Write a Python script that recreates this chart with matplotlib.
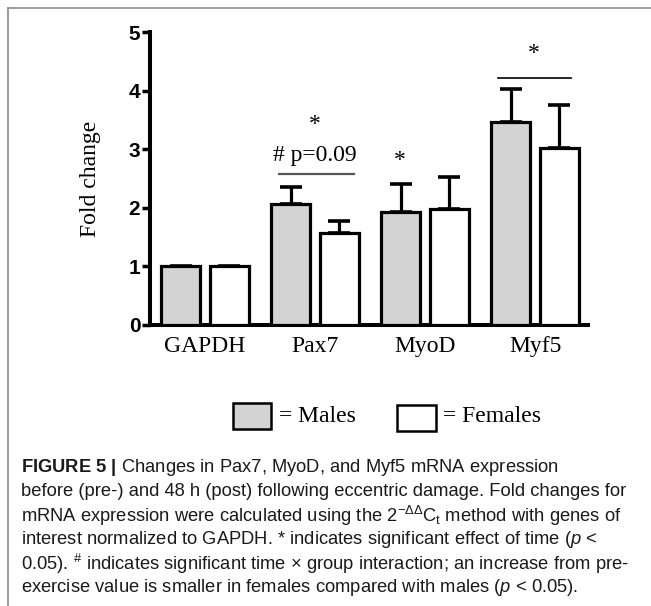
import numpy as np
import matplotlib
matplotlib.use("Agg")
import matplotlib.pyplot as plt
from matplotlib.patches import Rectangle
from matplotlib.lines import Line2D

# data
genes = ["GAPDH", "Pax7", "MyoD", "Myf5"]
males = [1.0, 2.06, 1.93, 3.46]
males_err = [np.nan, 0.30, 0.47, 0.57]
females = [1.0, 1.57, 1.98, 3.02]
females_err = [np.nan, 0.20, 0.55, 0.73]

caption_lines = [
    r"$\mathbf{FIGURE\ 5\ |}$ Changes in Pax7, MyoD, and Myf5 mRNA expression",
    "before (pre-) and 48 h (post) following eccentric damage. Fold changes for",
    r"mRNA expression were calculated using the 2$^{-\Delta\Delta}$C$_{\mathrm{t}}$ method with genes of",
    r"interest normalized to GAPDH. * indicates significant effect of time ($\mathit{p}$ <",
    r"0.05). $^{\#}$ indicates significant time $\times$ group interaction; an increase from pre-",
    r"exercise value is smaller in females compared with males ($\mathit{p}$ < 0.05).",
]

plt.rcParams["mathtext.fontset"] = "custom"
plt.rcParams["mathtext.rm"] = "Liberation Sans"
plt.rcParams["mathtext.it"] = "Liberation Sans:italic"
plt.rcParams["mathtext.bf"] = "Liberation Sans:bold"

W, H = 651, 606
fig = plt.figure(figsize=(W / 100, H / 100), dpi=100)
ax = fig.add_axes([150 / W, 1 - 325 / H, 438 / W, 293 / H])

x = np.arange(len(genes))
off = 0.22
bw = 0.355
lw = 2.3
ax.bar(x - off, males, bw, color="#d3d3d3", edgecolor="black", linewidth=lw, zorder=3)
ax.bar(x + off, females, bw, color="white", edgecolor="black", linewidth=lw, zorder=3)
ax.errorbar(x - off, males, yerr=[np.zeros(4), males_err], fmt="none", ecolor="black",
            elinewidth=2.3, capsize=8, capthick=2.6, zorder=2)
ax.errorbar(x + off, females, yerr=[np.zeros(4), females_err], fmt="none", ecolor="black",
            elinewidth=2.3, capsize=8, capthick=2.6, zorder=2)

ax.set_xlim(-0.5, 3.48)
ax.set_ylim(0, 5)
ax.set_yticks([0, 1, 2, 3, 4, 5])
for s in ["top", "right"]:
    ax.spines[s].set_visible(False)
for s in ["left", "bottom"]:
    ax.spines[s].set_linewidth(2.9)
ax.tick_params(axis="y", width=2.5, length=6, pad=1, labelsize=15)
for t in ax.get_yticklabels():
    t.set_fontfamily("Liberation Sans")
    t.set_fontweight("bold")
ax.set_xticks(x)
ax.set_xticklabels(genes, fontfamily="Liberation Serif", fontsize=17)
ax.tick_params(axis="x", length=0, pad=8)
ax.set_ylabel("Fold change", fontfamily="Liberation Serif", fontsize=17, labelpad=20)

# significance marks
ax.plot([0.67, 1.35], [2.57, 2.57], color="#555555", lw=1.6)
ax.text(1.0, 2.9, "# p=0.09", ha="center", va="center", family="Liberation Serif", fontsize=17)
ax.text(1.0, 3.42, "*", ha="center", va="center", family="Liberation Serif", fontsize=17)
ax.text(1.77, 2.8, "*", ha="center", va="center", family="Liberation Serif", fontsize=17)
ax.plot([2.66, 3.33], [4.21, 4.21], color="black", lw=1.2)
ax.text(2.99, 4.63, "*", ha="center", va="center", family="Liberation Serif", fontsize=17)

# legend
fig.add_artist(Rectangle((233 / W, 1 - 429 / H), 38 / W, 26 / H, transform=fig.transFigure,
                         facecolor="#d3d3d3", edgecolor="black", lw=1.8))
fig.text(279 / W, 1 - 416 / H, "= Males", ha="left", va="center", family="Liberation Serif", fontsize=17)
fig.add_artist(Rectangle((397 / W, 1 - 431 / H), 39 / W, 26 / H, transform=fig.transFigure,
                         facecolor="white", edgecolor="black", lw=1.8))
fig.text(443 / W, 1 - 417 / H, "= Females", ha="left", va="center", family="Liberation Serif", fontsize=17)

# panel frame
fig.add_artist(Line2D([8 / W, 1], [1 - 8 / H, 1 - 8 / H], transform=fig.transFigure, color="#8c8c8c", lw=1.2))
fig.add_artist(Line2D([8 / W, 8 / W], [0, 1 - 8 / H], transform=fig.transFigure, color="#8c8c8c", lw=1.2))

# caption
ys = [468, 492, 516, 540, 564, 588]
for line, yy in zip(caption_lines, ys):
    fig.text(21 / W, 1 - yy / H, line, ha="left", va="center", family="Liberation Sans",
             fontsize=13.2, color="#1a1a1a")

fig.savefig("out.png", dpi=100)
